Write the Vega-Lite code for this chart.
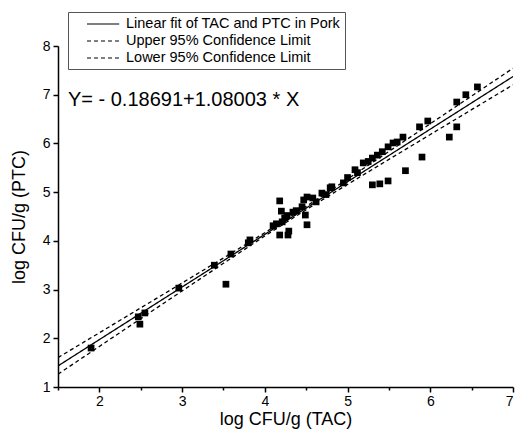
{
  "$schema": "https://vega.github.io/schema/vega-lite/v6.json",
  "width": 455,
  "height": 341,
  "autosize": {"type": "none"},
  "padding": {"left": 58, "top": 46, "right": 2, "bottom": 48},
  "background": "white",
  "config": {
    "view": {"stroke": null},
    "font": "Liberation Sans",
    "axis": {
      "domainColor": "black", "domainWidth": 1.5, "tickColor": "black", "tickWidth": 1.5,
      "labelColor": "black", "titleColor": "black", "labelFont": "Liberation Sans", "titleFont": "Liberation Sans",
      "labelFontSize": 14, "titleFontSize": 18, "titleFontWeight": "normal", "grid": false,
      "labelExpr": "datum.value % 1 === 0 ? format(datum.value, 'd') : ''",
      "tickSize": {"condition": {"test": "datum.value % 1 !== 0", "value": 3}, "value": 5}
    }
  },
  "datasets": {
    "pts": [
      {"tac":1.90,"ptc":1.80},{"tac":2.47,"ptc":2.44},{"tac":2.49,"ptc":2.29},{"tac":2.55,"ptc":2.52},
      {"tac":2.96,"ptc":3.03},{"tac":3.39,"ptc":3.50},{"tac":3.53,"ptc":3.11},{"tac":3.59,"ptc":3.73},
      {"tac":3.80,"ptc":3.96},{"tac":3.82,"ptc":4.02},{"tac":4.10,"ptc":4.31},{"tac":4.14,"ptc":4.35},
      {"tac":4.18,"ptc":4.82},{"tac":4.20,"ptc":4.61},{"tac":4.21,"ptc":4.39},{"tac":4.18,"ptc":4.12},
      {"tac":4.24,"ptc":4.47},{"tac":4.27,"ptc":4.52},{"tac":4.29,"ptc":4.20},{"tac":4.28,"ptc":4.12},
      {"tac":4.34,"ptc":4.59},{"tac":4.38,"ptc":4.62},{"tac":4.45,"ptc":4.70},{"tac":4.49,"ptc":4.53},
      {"tac":4.51,"ptc":4.33},{"tac":4.51,"ptc":4.90},{"tac":4.47,"ptc":4.84},{"tac":4.58,"ptc":4.88},
      {"tac":4.62,"ptc":4.80},{"tac":4.69,"ptc":4.98},{"tac":4.74,"ptc":4.95},{"tac":4.79,"ptc":5.09},
      {"tac":4.81,"ptc":5.11},{"tac":4.95,"ptc":5.19},{"tac":5.00,"ptc":5.30},{"tac":5.09,"ptc":5.46},
      {"tac":5.12,"ptc":5.40},{"tac":5.19,"ptc":5.60},{"tac":5.25,"ptc":5.63},{"tac":5.30,"ptc":5.70},
      {"tac":5.36,"ptc":5.76},{"tac":5.42,"ptc":5.83},{"tac":5.49,"ptc":5.93},{"tac":5.55,"ptc":6.01},
      {"tac":5.60,"ptc":6.03},{"tac":5.67,"ptc":6.13},{"tac":5.30,"ptc":5.15},{"tac":5.39,"ptc":5.17},
      {"tac":5.49,"ptc":5.23},{"tac":5.70,"ptc":5.44},{"tac":5.90,"ptc":5.72},{"tac":5.87,"ptc":6.34},
      {"tac":5.97,"ptc":6.46},{"tac":6.23,"ptc":6.13},{"tac":6.32,"ptc":6.34},{"tac":6.32,"ptc":6.85},
      {"tac":6.43,"ptc":7.00},{"tac":6.57,"ptc":7.16}
    ],
    "lines": [
      {"x":1.5,"y":1.433,"s":"Linear fit of TAC and PTC in Pork"},
      {"x":7.0,"y":7.373,"s":"Linear fit of TAC and PTC in Pork"},
      {"x":1.5,"y":1.603,"s":"Upper 95% Confidence Limit"},
      {"x":2.0,"y":2.113,"s":"Upper 95% Confidence Limit"},
      {"x":2.5,"y":2.624,"s":"Upper 95% Confidence Limit"},
      {"x":3.0,"y":3.135,"s":"Upper 95% Confidence Limit"},
      {"x":3.5,"y":3.648,"s":"Upper 95% Confidence Limit"},
      {"x":4.0,"y":4.167,"s":"Upper 95% Confidence Limit"},
      {"x":4.5,"y":4.707,"s":"Upper 95% Confidence Limit"},
      {"x":5.0,"y":5.268,"s":"Upper 95% Confidence Limit"},
      {"x":5.5,"y":5.835,"s":"Upper 95% Confidence Limit"},
      {"x":6.0,"y":6.404,"s":"Upper 95% Confidence Limit"},
      {"x":6.5,"y":6.973,"s":"Upper 95% Confidence Limit"},
      {"x":7.0,"y":7.543,"s":"Upper 95% Confidence Limit"},
      {"x":1.5,"y":1.263,"s":"Lower 95% Confidence Limit"},
      {"x":2.0,"y":1.833,"s":"Lower 95% Confidence Limit"},
      {"x":2.5,"y":2.403,"s":"Lower 95% Confidence Limit"},
      {"x":3.0,"y":2.972,"s":"Lower 95% Confidence Limit"},
      {"x":3.5,"y":3.539,"s":"Lower 95% Confidence Limit"},
      {"x":4.0,"y":4.100,"s":"Lower 95% Confidence Limit"},
      {"x":4.5,"y":4.640,"s":"Lower 95% Confidence Limit"},
      {"x":5.0,"y":5.159,"s":"Lower 95% Confidence Limit"},
      {"x":5.5,"y":5.672,"s":"Lower 95% Confidence Limit"},
      {"x":6.0,"y":6.183,"s":"Lower 95% Confidence Limit"},
      {"x":6.5,"y":6.693,"s":"Lower 95% Confidence Limit"},
      {"x":7.0,"y":7.203,"s":"Lower 95% Confidence Limit"}
    ],
    "eq": [{"x":1.62,"y":6.89,"t":"Y= - 0.18691+1.08003 * X"}]
  },
  "layer": [
    {
      "data": {"name": "lines"},
      "mark": {"type": "line", "color": "black", "strokeWidth": 1.3, "clip": true},
      "encoding": {
        "x": {"field": "x", "type": "quantitative",
              "scale": {"domain": [1.5, 7], "nice": false, "zero": false},
              "axis": {"title": "log CFU/g (TAC)", "values": [1.5,2,2.5,3,3.5,4,4.5,5,5.5,6,6.5,7], "titlePadding": 2, "labelPadding": 2}},
        "y": {"field": "y", "type": "quantitative",
              "scale": {"domain": [1, 8], "nice": false, "zero": false},
              "axis": {"title": "log CFU/g (PTC)", "values": [1,1.5,2,2.5,3,3.5,4,4.5,5,5.5,6,6.5,7,7.5,8], "titlePadding": 14, "labelPadding": 3}},
        "detail": {"field": "s"},
        "strokeDash": {"field": "s", "type": "nominal",
          "scale": {"domain": ["Linear fit of TAC and PTC in Pork", "Upper 95% Confidence Limit", "Lower 95% Confidence Limit"],
                    "range": [[1, 0], [4, 3], [4, 3]]},
          "legend": {"title": null, "orient": "none", "legendX": 10, "legendY": -34,
                     "symbolType": "M1,0H5.6", "symbolStrokeColor": "black", "symbolFillColor": "transparent",
                     "symbolStrokeWidth": 1.2, "symbolSize": 196,
                     "labelFontSize": 14.5, "labelColor": "black", "labelFont": "Liberation Sans", "labelLimit": 0,
                     "strokeColor": "#555", "padding": 4, "rowPadding": 2, "labelOffset": 38}
        }
      }
    },
    {
      "data": {"name": "pts"},
      "mark": {"type": "point", "shape": "square", "filled": true, "color": "black", "size": 45, "opacity": 1},
      "encoding": {
        "x": {"field": "tac", "type": "quantitative"},
        "y": {"field": "ptc", "type": "quantitative"}
      }
    },
    {
      "data": {"name": "eq"},
      "mark": {"type": "text", "align": "left", "baseline": "middle", "fontSize": 20, "font": "Liberation Sans", "color": "black"},
      "encoding": {
        "x": {"field": "x", "type": "quantitative"},
        "y": {"field": "y", "type": "quantitative"},
        "text": {"field": "t"}
      }
    }
  ]
}
